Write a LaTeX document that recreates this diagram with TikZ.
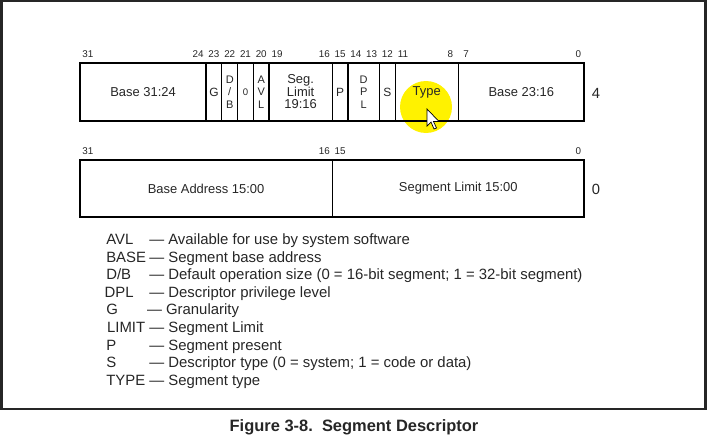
\documentclass[tikz,border=0pt]{standalone}
\usepackage{fontspec}
\setmainfont{Liberation Sans}
\usetikzlibrary{positioning}
\definecolor{marker}{RGB}{255,242,0}
\definecolor{ink}{RGB}{38,38,38}

\begin{document}
\begin{tikzpicture}[
    field/.style={draw=black, line width=0.9pt, inner sep=0pt, outer sep=0pt, minimum height=1.45cm, text=ink, font=\fontsize{9.2}{11}\selectfont},
    narrow/.style={field, minimum width=0.394cm, align=center, font=\fontsize{7.8}{9}\selectfont},
    bitno/.style={inner sep=0pt, text=ink, font=\fontsize{7}{8}\selectfont},
    key/.style={anchor=base west, inner sep=0pt, text=ink, font=\fontsize{10.6}{12}\selectfont},
    rowno/.style={inner sep=0pt, text=ink, font=\fontsize{10.5}{12}\selectfont}
]
    \useasboundingbox (0,0) rectangle (17.7,-11);
    \draw[line width=1.7pt, draw=ink] (0.04,-0.03) rectangle (17.64,-10.22);

    % yellow highlight behind the Type field
    \fill[marker] (10.65,-2.675) circle (0.65);

    % word at offset 4
    \node[field, minimum width=3.152cm] (base3124) at (3.576,-2.3) {Base 31:24};
    \node[narrow, font=\fontsize{8.5}{9}\selectfont] (g) at (5.349,-2.3) {G};
    \node[narrow] (db) at (5.743,-2.3) {D\\/\\B};
    \node[narrow, font=\fontsize{6.8}{8}\selectfont] (zero) at (6.137,-2.3) {0};
    \node[narrow] (avl) at (6.531,-2.3) {A\\V\\L};
    \node[field, minimum width=1.576cm, align=center, font=\fontsize{9.2}{8.9}\selectfont] (seglim) at (7.516,-2.3) {Seg.\\Limit\\19:16};
    \node[narrow, font=\fontsize{8.5}{9}\selectfont] (p) at (8.501,-2.3) {P};
    \node[narrow, minimum width=0.788cm] (dpl) at (9.092,-2.3) {D\\P\\L};
    \node[narrow, font=\fontsize{8.5}{9}\selectfont] (s) at (9.683,-2.3) {S};
    \node[field, minimum width=1.576cm] (type) at (10.668,-2.3) {Type};
    \node[field, minimum width=3.152cm] (base2316) at (13.032,-2.3) {Base 23:16};
    \draw[line width=1.4pt] (base3124.north west) rectangle (base2316.south east);

    \node[bitno] (hi31) at (2.197,-1.36) {31};
    \node[bitno] (hi24) at (4.955,-1.36) {24};
    \node[bitno] (hi23) at (5.349,-1.36) {23};
    \node[bitno] (hi22) at (5.743,-1.36) {22};
    \node[bitno] (hi21) at (6.137,-1.36) {21};
    \node[bitno] (hi20) at (6.531,-1.36) {20};
    \node[bitno] (hi19) at (6.925,-1.36) {19};
    \node[bitno] (hi16) at (8.107,-1.36) {16};
    \node[bitno] (hi15) at (8.501,-1.36) {15};
    \node[bitno] (hi14) at (8.895,-1.36) {14};
    \node[bitno] (hi13) at (9.289,-1.36) {13};
    \node[bitno] (hi12) at (9.683,-1.36) {12};
    \node[bitno] (hi11) at (10.077,-1.36) {11};
    \node[bitno] (hi8) at (11.259,-1.36) {8};
    \node[bitno] (hi7) at (11.653,-1.36) {7};
    \node[bitno] (hi0) at (14.46,-1.36) {0};
    \node[rowno] (row4) at (14.9,-2.325) {4};

    % word at offset 0
    \node[field, minimum width=6.304cm, minimum height=1.425cm] (baseaddr) at (5.152,-4.7125) {Base Address 15:00};
    \node[field, minimum width=6.304cm, minimum height=1.425cm] (seglimit) at (11.456,-4.7125) {Segment Limit 15:00};
    \draw[line width=1.4pt] (baseaddr.north west) rectangle (seglimit.south east);

    \node[bitno] (lo31) at (2.197,-3.775) {31};
    \node[bitno] (lo16) at (8.107,-3.775) {16};
    \node[bitno] (lo15) at (8.501,-3.775) {15};
    \node[bitno] (lo0) at (14.46,-3.775) {0};
    \node[rowno] (row0) at (14.9,-4.725) {0};

    % legend
    \node[key] (kavl) at (2.65,-6.11) {AVL};
    \node[key] (davl) at (3.725,-6.11) {— Available for use by system software};
    \node[key] (kbase) at (2.65,-6.55) {BASE};
    \node[key] (dbase) at (3.725,-6.55) {— Segment base address};
    \node[key] (kdb) at (2.65,-6.99) {D/B};
    \node[key] (ddb) at (3.725,-6.99) {— Default operation size (0 = 16-bit segment; 1 = 32-bit segment)};
    \node[key] (kdpl) at (2.61,-7.43) {DPL};
    \node[key] (ddpl) at (3.725,-7.43) {— Descriptor privilege level};
    \node[key] (kg) at (2.65,-7.87) {G};
    \node[key] (dg) at (3.67,-7.87) {— Granularity};
    \node[key] (klimit) at (2.67,-8.31) {LIMIT};
    \node[key] (dlimit) at (3.725,-8.31) {— Segment Limit};
    \node[key] (kp) at (2.65,-8.75) {P};
    \node[key] (dp) at (3.725,-8.75) {— Segment present};
    \node[key] (ks) at (2.65,-9.19) {S};
    \node[key] (ds) at (3.725,-9.19) {— Descriptor type (0 = system; 1 = code or data)};
    \node[key] (ktype) at (2.65,-9.63) {TYPE};
    \node[key] (dtype) at (3.725,-9.63) {— Segment type};

    \node[text=ink, font=\fontsize{11.7}{14}\selectfont\bfseries] (caption) at (8.85,-10.675) {Figure 3-8.\ \ Segment Descriptor};

    % mouse pointer
    \draw[fill=white, line width=0.5pt, line join=miter, shift={(10.675,-2.725)}] (0,0) -- (0,-0.425) -- (0.1,-0.325) -- (0.175,-0.5) -- (0.2375,-0.475) -- (0.1625,-0.3125) -- (0.3,-0.3125) -- cycle;
\end{tikzpicture}
\end{document}
